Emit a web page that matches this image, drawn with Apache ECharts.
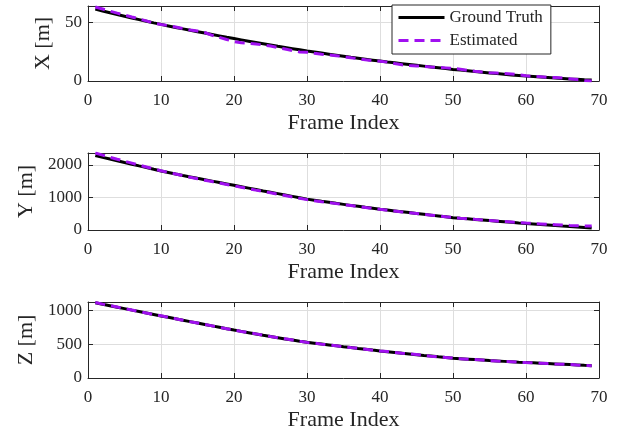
<!DOCTYPE html>
<html>
<head>
<meta charset="utf-8">
<script src="https://cdn.jsdelivr.net/npm/echarts@6/dist/echarts.min.js"></script>
<style>
  html, body { margin: 0; padding: 0; background: #fff; }
  #chart { width: 623px; height: 437px; }
</style>
</head>
<body>
<div id="chart"></div>
<script>
// frame index 1..69
var frames = [1,2,3,4,5,6,7,8,9,10,11,12,13,14,15,16,17,18,19,20,21,22,23,24,25,26,27,28,29,30,
  31,32,33,34,35,36,37,38,39,40,41,42,43,44,45,46,47,48,49,50,51,52,53,54,55,56,57,58,59,60,
  61,62,63,64,65,66,67,68,69];

var xTruth = [61.3,59.8,58.3,56.8,55.3,53.8,52.4,51.0,49.6,48.3,47.0,45.7,44.5,43.3,42.1,40.9,39.7,38.5,37.3,36.2,
  35.1,34.0,32.9,31.8,30.7,29.6,28.6,27.6,26.6,25.6,24.7,23.8,22.9,22.0,21.1,20.2,19.4,18.6,17.8,17.0,
  16.2,15.5,14.8,14.1,13.4,12.7,12.0,11.3,10.6,9.9,9.3,8.7,8.1,7.5,6.9,6.3,5.8,5.2,4.7,4.2,
  3.8,3.4,3.0,2.6,2.2,1.8,1.5,1.1,0.8];
var xEst = [63.2,61.4,59.6,57.9,56.3,54.6,53.0,51.3,49.3,48.2,47.3,46.1,44.8,43.5,42.6,41.4,39.0,37.2,35.4,33.7,
  32.6,32.2,31.5,30.8,29.8,28.5,27.3,26.0,24.8,24.5,23.6,22.8,22.2,21.6,20.8,19.9,19.0,18.1,17.4,16.9,
  16.1,14.9,13.8,13.3,12.9,12.5,12.0,11.6,11.2,10.8,10.1,9.1,8.3,7.6,7.1,6.8,6.4,6.0,5.3,4.4,
  4.0,3.6,3.2,2.9,2.5,1.9,1.2,0.5,0.1];

var yTruth = [2290,2236,2183,2130,2077,2025,1973,1922,1868,1815,1769,1723,1678,1634,1590,1547,1504,1461,1418,1375,
  1332,1289,1246,1203,1161,1119,1077,1035,993,950,917,884,852,820,789,758,728,698,669,640,
  614,588,562,536,510,484,458,432,406,380,361,343,325,307,289,271,253,235,217,200,
  184,168,152,136,120,105,90,75,60];
var yEst = [2370,2305,2240,2178,2118,2058,1995,1938,1880,1822,1772,1722,1672,1624,1578,1534,1490,1446,1402,1358,
  1314,1271,1228,1186,1144,1102,1060,1018,976,935,903,872,842,812,782,752,722,693,664,636,
  609,583,557,532,507,482,457,432,407,383,364,346,328,311,294,277,260,244,228,213,
  200,188,176,164,152,142,133,126,120];

var zTruth = [1110,1088,1066,1044,1022,1000,979,958,937,915,894,873,852,831,810,789,768,747,726,706,
  687,668,649,630,612,594,576,559,542,526,513,500,487,474,461,449,436,424,411,399,
  388,377,366,355,344,333,323,312,302,292,285,278,271,264,257,251,245,239,233,228,
  223,218,213,208,203,198,193,187,182];
var zEst = [1112,1089,1067,1045,1022,1001,979,957,936,916,895,873,851,830,811,790,768,746,727,707,
  686,667,650,631,611,593,577,560,541,525,514,499,486,475,462,448,437,425,410,398,
  389,378,365,354,345,334,322,311,303,293,284,277,272,265,256,250,246,240,232,227,
  224,219,212,207,204,199,192,186,181];

var xTicks = [0, 10, 20, 30, 40, 50, 60, 70];
var panelNames = ['X [m]', 'Y [m]', 'Z [m]'];
var panelMax = [64, 2370, 1120];
var panelStep = [50, 1000, 500];
var truthList = [xTruth, yTruth, zTruth];
var estList = [xEst, yEst, zEst];

var FONT = '"Liberation Serif", "DejaVu Serif", serif';
var INK = '#262626';
var PURPLE = '#a010f0';

function pairs(vals) {
  var out = [];
  for (var i = 0; i < frames.length; i++) {
    out.push([frames[i], vals[i]]);
  }
  return out;
}

// plot boxes (px) for the three panels
var boxes = [
  {top: 6, height: 75},
  {top: 153, height: 77},
  {top: 302, height: 76}
];
var yNameGap = [30, 46, 46];

var grids = [], xAxes = [], yAxes = [], series = [];
for (var i = 0; i < 3; i++) {
  grids.push({left: 88, right: 24, top: boxes[i].top, height: boxes[i].height, containLabel: false});

  // bottom axis with labels
  xAxes.push({
    gridIndex: i, type: 'value', position: 'bottom',
    min: xTicks[0], max: xTicks[xTicks.length - 1], interval: 10,
    axisLine: {show: true, onZero: false, lineStyle: {color: INK, width: 1}},
    axisTick: {inside: true, length: 5, lineStyle: {color: INK}},
    axisLabel: {margin: 11, fontFamily: FONT, fontSize: 17, color: INK},
    splitLine: {show: true, lineStyle: {color: '#dedede', width: 1}},
    name: 'Frame Index', nameLocation: 'middle', nameGap: 31,
    nameTextStyle: {fontFamily: FONT, fontSize: 22, color: INK}
  });
  // top box edge
  xAxes.push({
    gridIndex: i, type: 'value', position: 'top',
    min: xTicks[0], max: xTicks[xTicks.length - 1], interval: 10,
    axisLine: {show: true, onZero: false, lineStyle: {color: INK, width: 1}},
    axisTick: {inside: true, length: 5, lineStyle: {color: INK}},
    axisLabel: {show: false},
    splitLine: {show: false}
  });

  yAxes.push({
    gridIndex: i, type: 'value', position: 'left',
    min: 0, max: panelMax[i], interval: panelStep[i],
    axisLine: {show: true, onZero: false, lineStyle: {color: INK, width: 1}},
    axisTick: {inside: true, length: 5, lineStyle: {color: INK}},
    axisLabel: {
      margin: 6, fontFamily: FONT, fontSize: 17, color: INK, showMaxLabel: false,
      formatter: function (v) { return String(v); }
    },
    splitLine: {show: true, lineStyle: {color: '#dedede', width: 1}},
    name: panelNames[i], nameLocation: 'middle', nameGap: yNameGap[i], nameRotate: 90,
    nameTextStyle: {fontFamily: FONT, fontSize: 22, color: INK}
  });
  yAxes.push({
    gridIndex: i, type: 'value', position: 'right',
    min: 0, max: panelMax[i], interval: panelStep[i],
    axisLine: {show: true, onZero: false, lineStyle: {color: INK, width: 1}},
    axisTick: {inside: true, length: 5, lineStyle: {color: INK}},
    axisLabel: {show: false},
    splitLine: {show: false}
  });

  series.push({
    name: 'Ground Truth', type: 'line', xAxisIndex: i * 2, yAxisIndex: i * 2,
    data: pairs(truthList[i]), symbol: 'none',
    lineStyle: {color: '#000000', width: 3}, itemStyle: {color: '#000000'}
  });
  series.push({
    name: 'Estimated', type: 'line', xAxisIndex: i * 2, yAxisIndex: i * 2,
    data: pairs(estList[i]), symbol: 'none',
    lineStyle: {color: PURPLE, width: 3, type: [10, 6]}, itemStyle: {color: PURPLE}
  });
}

var option = {
  animation: false,
  backgroundColor: '#ffffff',
  legend: {
    data: ['Ground Truth', 'Estimated'],
    orient: 'vertical', left: 392, top: 5,
    padding: [4, 8, 5, 5], itemGap: 6, itemWidth: 46, itemHeight: 14,
    backgroundColor: '#ffffff', borderColor: INK, borderWidth: 1, borderRadius: 0,
    itemStyle: {opacity: 0},
    lineStyle: {width: 3},
    textStyle: {fontFamily: FONT, fontSize: 17, color: INK}
  },
  grid: grids,
  xAxis: xAxes,
  yAxis: yAxes,
  series: series
};

echarts.init(document.getElementById('chart')).setOption(option);
</script>
</body>
</html>
